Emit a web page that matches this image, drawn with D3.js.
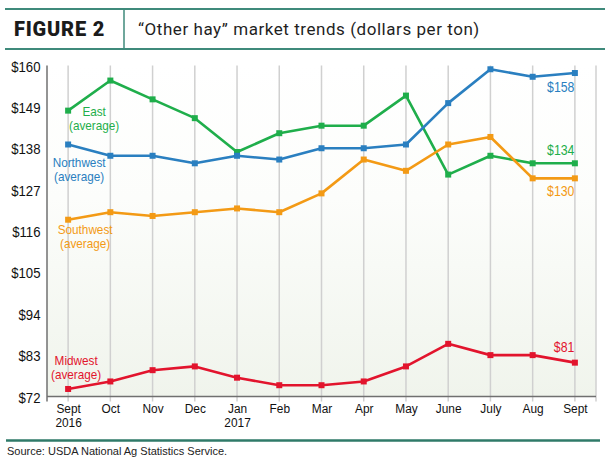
<!DOCTYPE html>
<html>
<head>
<meta charset="utf-8">
<script src="https://cdn.jsdelivr.net/npm/d3@7/dist/d3.min.js"></script>
<style>
  html, body { margin: 0; padding: 0; background: #ffffff; }
  svg { display: block; }
</style>
</head>
<body>
<div id="chart"></div>
<script>
// ---- Data ----
const months = ["Sept", "Oct", "Nov", "Dec", "Jan", "Feb", "Mar", "Apr", "May", "June", "July", "Aug", "Sept"];
const years  = ["2016", "", "", "", "2017", "", "", "", "", "", "", "", ""];
const east      = [148, 156, 151, 146, 137, 142, 144, 144, 152, 131, 136, 134, 134];
const northwest = [139, 136, 136, 134, 136, 135, 138, 138, 139, 150, 159, 157, 158];
const southwest = [119, 121, 120, 121, 122, 121, 126, 135, 132, 139, 141, 130, 130];
const midwest   = [74, 76, 79, 80, 77, 75, 75, 76, 80, 86, 83, 83, 81];
const yTicks = [72, 83, 94, 105, 116, 127, 138, 149, 160];
const seriesNames = ["East", "Northwest", "Southwest", "Midwest"];
const endLabels = ["$134", "$158", "$130", "$81"];

const W = 610, H = 465;
const svg = d3.select("#chart").append("svg").attr("width", W).attr("height", H);
const labelFont = "'Liberation Sans', Arial, Helvetica, sans-serif";
const SX = 0.82; // horizontal condensing of chart labels
const teal = "#3f8a7b";

// condensed text helper
function ctext(x0, y0, txt, opts) {
  return svg.append("text")
    .attr("transform", `translate(${x0},${y0}) scale(${opts.sx || SX},1)`)
    .attr("dy", opts.dy || "0.35em")
    .attr("text-anchor", opts.anchor || "middle")
    .attr("font-family", labelFont).attr("font-size", opts.size || 14)
    .attr("fill", opts.color || "#1a1a1a")
    .text(txt);
}

// ---- Header ----
svg.append("line").attr("x1", 5).attr("x2", 605).attr("y1", 9).attr("y2", 9)
  .attr("stroke", teal).attr("stroke-width", 2);
svg.append("line").attr("x1", 5).attr("x2", 605).attr("y1", 49).attr("y2", 49)
  .attr("stroke", teal).attr("stroke-width", 2);
svg.append("line").attr("x1", 124).attr("x2", 124).attr("y1", 9).attr("y2", 49)
  .attr("stroke", teal).attr("stroke-width", 1.5);
svg.append("text").attr("x", 14).attr("y", 36)
  .attr("font-family", "Roboto, 'DejaVu Sans', sans-serif").attr("font-weight", 900)
  .attr("font-size", 20).attr("letter-spacing", 0.8).attr("fill", "#1b1b1b")
  .text("FIGURE 2");
svg.append("text").attr("x", 138).attr("y", 35)
  .attr("font-family", "Roboto, 'DejaVu Sans', sans-serif")
  .attr("font-size", 17).attr("letter-spacing", 0.55).attr("fill", "#1f1f1f")
  .text("\u201cOther hay\u201d market trends (dollars per ton)");

// ---- Scales ----
const x = d3.scalePoint().domain(d3.range(months.length)).range([47, 596]).padding(0.5);
const y = d3.scaleLinear().domain([72, 160]).range([396.5, 65.5]);

// ---- Plot background ----
const defs = svg.append("defs");
const grad = defs.append("linearGradient").attr("id", "bg").attr("x1", 0).attr("x2", 0).attr("y1", 0).attr("y2", 1);
grad.append("stop").attr("offset", "0%").attr("stop-color", "#ffffff");
grad.append("stop").attr("offset", "40%").attr("stop-color", "#fcfdfb");
grad.append("stop").attr("offset", "100%").attr("stop-color", "#f0f4ec");
svg.append("rect").attr("x", 47).attr("y", y(160)).attr("width", 596 - 47).attr("height", y(72) - y(160))
  .attr("fill", "url(#bg)");

// ---- Gridlines ----
const grid = svg.append("g");
grid.selectAll("line.g").data(d3.range(months.length)).join("line")
  .attr("x1", d => x(d)).attr("x2", d => x(d))
  .attr("y1", y(160)).attr("y2", y(72) + 5)
  .attr("stroke", "#d0d0d0").attr("stroke-width", 1.5);
grid.append("line").attr("x1", 596).attr("x2", 596).attr("y1", y(160)).attr("y2", y(72) + 5)
  .attr("stroke", "#d0d0d0").attr("stroke-width", 1.5);

// ---- Axes ----
const YSX = 0.85;
const yAxis = d3.axisLeft(y).tickValues(yTicks).tickFormat(d => "$" + d).tickSize(0).tickPadding(0);
const gy = svg.append("g").attr("transform", "translate(47,0)").call(yAxis);
gy.select(".domain").remove();
gy.selectAll("text").attr("font-family", labelFont).attr("font-size", 15.5).attr("fill", "#111")
  .attr("x", -6.5 / YSX).attr("transform", `scale(${YSX},1)`).attr("dy", "0.36em");

svg.append("line").attr("x1", 47).attr("x2", 47).attr("y1", y(160)).attr("y2", y(72) + 5)
  .attr("stroke", "#707070").attr("stroke-width", 1.5);
svg.append("line").attr("x1", 47).attr("x2", 596).attr("y1", y(72)).attr("y2", y(72))
  .attr("stroke", "#707070").attr("stroke-width", 1.5);

const XSX = 0.88;
const xAxis = d3.axisBottom(x).tickSize(0).tickPadding(0).tickFormat("");
const gx = svg.append("g").attr("transform", `translate(0,${y(72)})`).call(xAxis);
gx.select(".domain").remove();
gx.selectAll(".tick").each(function(d) {
  const t = d3.select(this).append("text").attr("text-anchor", "middle")
    .attr("transform", `scale(${XSX},1)`)
    .attr("font-family", labelFont).attr("font-size", 13.5).attr("fill", "#111");
  t.append("tspan").attr("x", 0).attr("y", 17).text(months[d]);
  if (years[d]) t.append("tspan").attr("x", 0).attr("y", 31).text(years[d]);
});

// ---- Series ----
const series = [
  { name: seriesNames[0], values: east, color: "#1fae4b" },
  { name: seriesNames[1], values: northwest, color: "#2a7fc0" },
  { name: seriesNames[2], values: southwest, color: "#f39a15" },
  { name: seriesNames[3], values: midwest, color: "#e2142d" }
];
const line = d3.line().x((d, i) => x(i)).y(d => y(d));
series.forEach(s => {
  svg.append("path").datum(s.values).attr("d", line)
    .attr("fill", "none").attr("stroke", s.color).attr("stroke-width", 2.6).attr("stroke-linejoin", "round");
  svg.append("g").selectAll("rect").data(s.values).join("rect")
    .attr("x", (d, i) => x(i) - 3).attr("y", d => y(d) - 3)
    .attr("width", 6).attr("height", 6).attr("fill", s.color);
});

// ---- Series labels (two lines in one text element) ----
const LSX = 0.87;
function label2(txt1, txt2, cx, cy, color) {
  const t = svg.append("text")
    .attr("transform", `translate(${cx},${cy}) scale(${LSX},1)`)
    .attr("text-anchor", "middle")
    .attr("font-family", labelFont).attr("font-size", 13.5).attr("fill", color);
  t.append("tspan").attr("x", 0).attr("y", 4.5).text(txt1);
  t.append("tspan").attr("x", 0).attr("y", 18.5).text(txt2);
}
label2(seriesNames[0], "(average)", x(0) + 26, y(east[0]) + 1, "#1fae4b");
label2(seriesNames[1], "(average)", x(0) + 11, y(northwest[0]) + 18, "#2a7fc0");
label2(seriesNames[2], "(average)", x(0) + 17, y(southwest[0]) + 10, "#f39a15");
label2(seriesNames[3], "(average)", x(0) + 8, y(midwest[0]) - 28.5, "#e2142d");

// end labels
const last = months.length - 1;
const endSpec = [
  { v: east[last], t: endLabels[0], off: -14, c: "#1fae4b" },
  { v: northwest[last], t: endLabels[1], off: 14, c: "#2a7fc0" },
  { v: southwest[last], t: endLabels[2], off: 12.5, c: "#f39a15" },
  { v: midwest[last], t: endLabels[3], off: -16, c: "#e2142d" }
];
endSpec.forEach(e => {
  ctext(x(last) - 0.5, y(e.v) + e.off, e.t, { anchor: "end", size: 15, color: e.c });
});

// ---- Footer ----
svg.append("line").attr("x1", 6).attr("x2", 600).attr("y1", 440.5).attr("y2", 440.5)
  .attr("stroke", "#2f7a69").attr("stroke-width", 2.5);
svg.append("text").attr("x", 7).attr("y", 455)
  .attr("font-family", "'Liberation Sans', Arial, sans-serif").attr("font-size", 11).attr("fill", "#222")
  .text("Source: USDA National Ag Statistics Service.");
</script>
</body>
</html>
